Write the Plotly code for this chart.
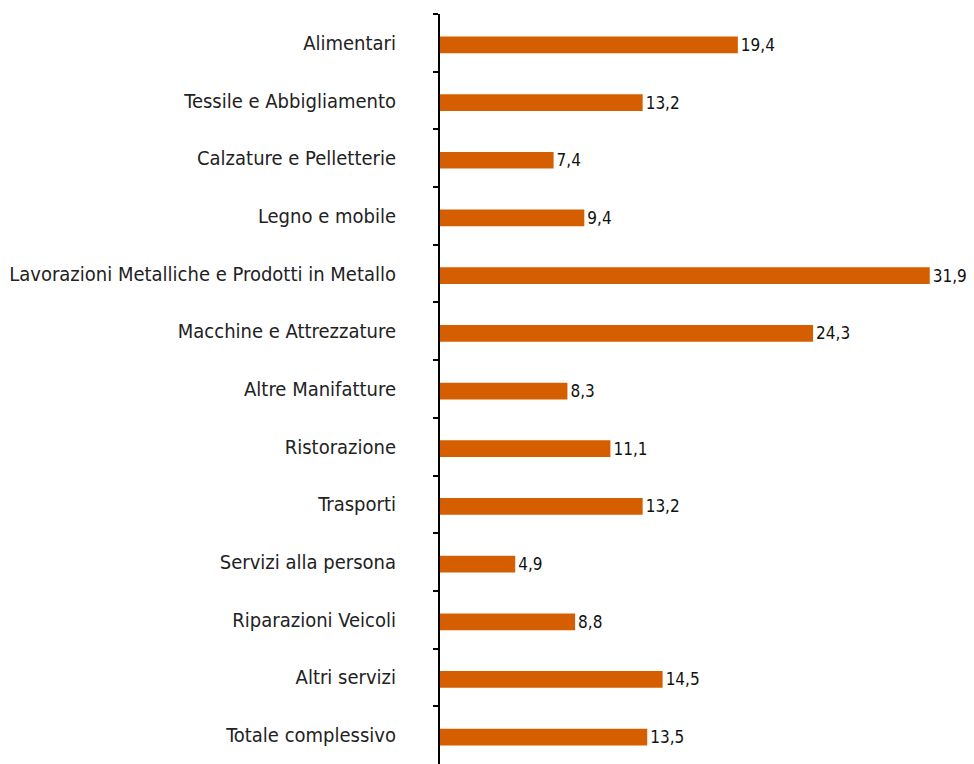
import plotly.graph_objects as go

categories = [
    "Alimentari",
    "Tessile e Abbigliamento",
    "Calzature e Pelletterie",
    "Legno e mobile",
    "Lavorazioni Metalliche e Prodotti in Metallo",
    "Macchine e Attrezzature",
    "Altre Manifatture",
    "Ristorazione",
    "Trasporti",
    "Servizi alla persona",
    "Riparazioni Veicoli",
    "Altri servizi",
    "Totale complessivo",
]
values = [19.4, 13.2, 7.4, 9.4, 31.9, 24.3, 8.3, 11.1, 13.2, 4.9, 8.8, 14.5, 13.5]

FONT = "Liberation Sans Narrow, DejaVu Sans Condensed, Roboto, sans-serif"

fig = go.Figure(
    go.Bar(
        x=values,
        y=categories,
        orientation="h",
        width=0.29,
        offset=-0.11,
        marker=dict(color="#D55E00", line=dict(width=0)),
        text=[f"{v:.1f}".replace(".", ",") for v in values],
        textposition="outside",
        constraintext="none",
        textfont=dict(family=FONT, size=17, color="#111111"),
        cliponaxis=False,
    )
)

fig.update_layout(
    width=966,
    height=756,
    margin=dict(l=432, r=12, t=6, b=0, autoexpand=False),
    plot_bgcolor="white",
    paper_bgcolor="white",
    showlegend=False,
    separators=",.",
    font=dict(family=FONT, color="#222222"),
)
fig.update_xaxes(
    range=[0, 34],
    visible=False,
    showgrid=False,
    zeroline=False,
    automargin=False,
)
fig.update_yaxes(
    autorange="reversed",
    automargin=False,
    showline=True,
    linecolor="black",
    linewidth=2,
    ticks="outside",
    tickson="boundaries",
    ticklen=5,
    tickcolor="black",
    tickwidth=2,
    showgrid=False,
    tickfont=dict(family=FONT, size=20, color="#222222"),
    ticklabelstandoff=38,
)

fig.write_html("out.html")
